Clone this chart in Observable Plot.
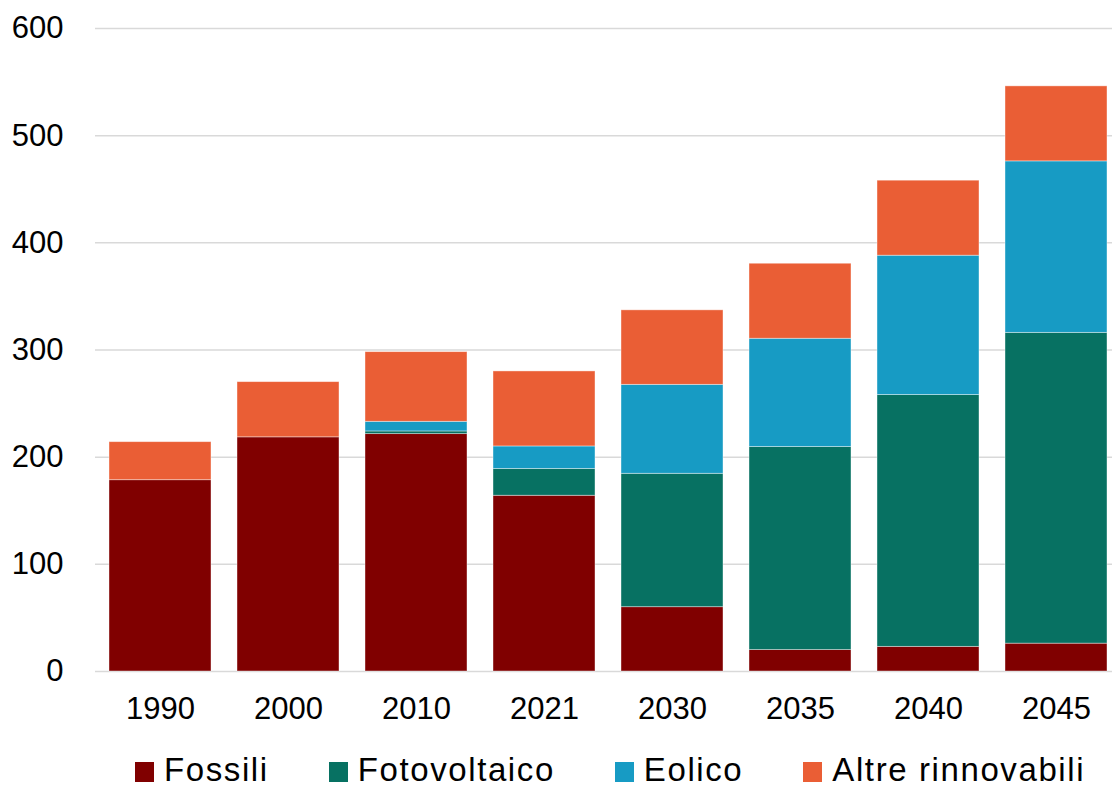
<!DOCTYPE html>
<html>
<head>
<meta charset="utf-8">
<script src="https://cdn.jsdelivr.net/npm/d3@7"></script>
<script src="https://cdn.jsdelivr.net/npm/@observablehq/plot@0.6"></script>
<style>
  html, body { margin: 0; padding: 0; background: #fff; }
  body { width: 1114px; font-family: "Liberation Sans", Arial, sans-serif; color: #000; }
  #chart svg { display: block; }
  #legend { box-sizing: border-box; display: flex; align-items: flex-start; height: 50px; padding-top: 11px; padding-left: 135px; font-size: 33px; }
  #legend .item { flex: none; display: flex; align-items: flex-start; margin-right: 60px; white-space: nowrap; }
  #legend .item:last-child { margin-right: 0; }
  #legend .sw { flex: none; width: 19px; height: 20px; margin-top: 11px; margin-right: 10px; }
  #legend .txt { flex: none; letter-spacing: 1.6px; line-height: normal; }
</style>
</head>
<body>
<div id="chart"></div>
<div id="legend"></div>
<script>
const years = ["1990", "2000", "2010", "2021", "2030", "2035", "2040", "2045"];
const seriesNames = ["Fossili", "Fotovoltaico", "Eolico", "Altre rinnovabili"];
const fossili = [178.5, 218.5, 221.5, 164, 60, 20, 23, 26];
const fotovoltaico = [0, 0, 2.5, 25, 124.5, 189.5, 235, 290];
const eolico = [0, 0, 9, 21, 83, 101, 130, 160];
const altre = [35.5, 51.5, 65, 70, 69.5, 70, 70, 70];
const colors = ["#800000", "#077162", "#179bc4", "#ea5e35"];
const yTicks = [0, 100, 200, 300, 400, 500, 600];

const seriesValues = [fossili, fotovoltaico, eolico, altre];
const data = [];
seriesNames.forEach((s, i) => {
  years.forEach((y, j) => data.push({year: y, series: s, value: seriesValues[i][j]}));
});

const chart = Plot.plot({
  width: 1114,
  height: 740,
  marginTop: 28,
  marginBottom: 69,
  marginLeft: 95,
  marginRight: 2,
  style: {fontFamily: "Liberation Sans, Arial, sans-serif", color: "#000", background: "#fff"},
  x: {domain: years, range: [95, 1122], paddingInner: 0.2, paddingOuter: 0.1, label: null},
  y: {domain: [0, 600], label: null},
  color: {domain: seriesNames, range: colors},
  marks: [
    Plot.ruleY(yTicks, {stroke: "#d9d9d9", strokeWidth: 1.5}),
    Plot.barY(data, {x: "year", y: "value", fill: "series", stroke: "#ffffff", strokeWidth: 0.8, strokeOpacity: 0.5}),
    Plot.axisY({ticks: yTicks, tickSize: 0, tickPadding: 32, fontSize: 31, label: null}),
    Plot.axisX({tickSize: 0, tickPadding: 25, fontSize: 31, label: null})
  ]
});
document.getElementById("chart").appendChild(chart);

const legend = document.getElementById("legend");
seriesNames.forEach((s, i) => {
  const item = document.createElement("div");
  item.className = "item";
  const sw = document.createElement("span");
  sw.className = "sw";
  sw.style.background = colors[i];
  const t = document.createElement("span");
  t.className = "txt";
  t.textContent = s;
  item.appendChild(sw);
  item.appendChild(t);
  legend.appendChild(item);
});
</script>
</body>
</html>
